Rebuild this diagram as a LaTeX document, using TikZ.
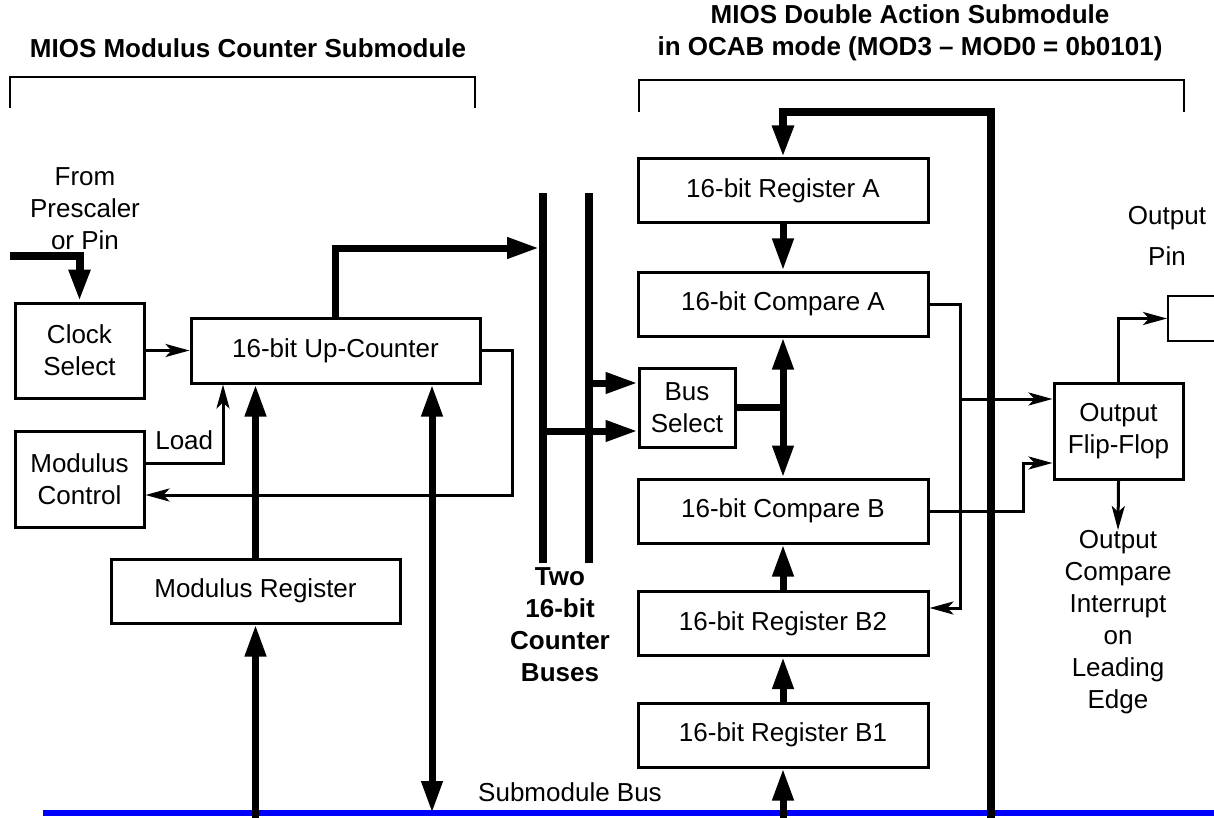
\documentclass[tikz,border=0pt]{standalone}
\usepackage{fontspec}
\setmainfont{Liberation Sans}
\usetikzlibrary{arrows.meta}
\definecolor{busblue}{RGB}{0,0,255}

\begin{document}
\begin{tikzpicture}[x=0.5pt, y=-0.5pt,
  big/.tip={Triangle[length=16pt,width=10pt]},
  sml/.tip={Stealth[length=12pt,width=6.5pt,inset=3pt]},
  blk/.style={draw, line width=1.5pt, inner sep=0pt, align=center,
              font=\fontsize{13}{16}\selectfont},
  regbox/.style={blk, minimum width=145pt, minimum height=32pt},
  thk/.style={line width=3.5pt},
  thn/.style={line width=1.5pt},
  txt/.style={align=center, inner sep=0pt, font=\fontsize{13}{16}\selectfont},
  ttl/.style={align=center, inner sep=0pt, font=\bfseries\fontsize{13}{16}\selectfont}]
  \useasboundingbox (0,0) rectangle (1214,818);
  % 标题与括号
  \node[ttl] (ttlmc) at (248,48) {MIOS Modulus Counter Submodule};
  \node[ttl] (ttlda) at (910,33) {MIOS Double Action Submodule\\in OCAB mode (MOD3 -- MOD0 = 0b0101)};
  \draw[line width=0.8pt] (10,108) -- (10,77) -- (475,77) -- (475,108);
  \draw[line width=0.8pt] (639,112) -- (639,80) -- (1184,80) -- (1184,112);
  % 模计数器子模块
  \node[txt] (src) at (85,209) {From\\Prescaler\\or Pin};
  \node[blk, minimum width=64.5pt, minimum height=47.5pt] (clk) at (79.5,350.5) {Clock\\Select};
  \node[blk, minimum width=144.5pt, minimum height=32.5pt] (ctr) at (335.5,350.5) {16-bit Up-Counter};
  \node[blk, minimum width=64.5pt, minimum height=48pt] (modc) at (79.5,479) {Modulus\\Control};
  \node[blk, minimum width=144.5pt, minimum height=32pt] (modr) at (255.5,591) {Modulus Register};
  % 双动作子模块
  \foreach \n/\t/\y in {rega/Register A/191, cmpa/Compare A/304, cmpb/Compare B/511,
                        regb2/Register B2/623.5, regb1/Register B1/735}
    \node[regbox] (\n) at (783,\y) {16-bit \t};
  \node[blk, minimum width=48pt, minimum height=39.5pt] (bsel) at (687,407.5) {Bus\\Select};
  \node[blk, minimum width=64.5pt, minimum height=48pt] (ff) at (1118.5,431) {Output\\Flip-Flop};
  \node[draw, line width=1pt, minimum width=46pt, minimum height=22.5pt] (pin) at (1214,318.5) {};
  \node[txt, font=\fontsize{13}{20.5}\selectfont] (pinlbl) at (1167,235.5) {Output\\Pin};
  \node[txt, anchor=north] (irq) at (1118,530) {Output\\Compare\\Interrupt\\on\\Leading\\Edge};
  \node[ttl] (buslbl) at (560,625) {Two\\16-bit\\Counter\\Buses};
  \node[txt] (sblbl) at (570,792) {Submodule Bus};
  % 总线
  \coordinate (sbl) at (43,813);   \coordinate (sbr) at (1214,813);
  \coordinate (sbb) at (0,818);
  \draw[busblue, line width=3pt] (sbl) -- (sbr);
  \coordinate (b1t) at (543,193);  \coordinate (b1b) at (543,563);
  \coordinate (b2t) at (589,193);  \coordinate (b2b) at (589,563);
  \draw[line width=4pt] (b1t) -- (b1b) (b2t) -- (b2b);
  % 左侧连接
  \coordinate (in) at (10,256);
  \coordinate (tapc) at (543,248);
  \draw[line width=4pt, -{big}] (in) -| (clk.north);
  \draw[thn, -{sml}] (clk) -- (ctr);
  \draw[thk, -{big}, shorten >=2pt] (ctr.north) |- (tapc);
  \draw[thn, -{sml}] (ctr.east) -- ++(15.5pt,0) |- ([yshift=-8pt]modc.east);
  \draw[thn, -{sml}] ([yshift=8pt]modc.east) -| node[txt, pos=0.25, above=6pt] (load) {Load}
    ([xshift=-56.25pt]ctr.south);
  \draw[thk, -{big}] (modr.north) -- (modr.north |- ctr.south);
  \draw[thk, {big}-{big}] ([xshift=48.25pt]ctr.south) -- ([xshift=48.25pt]ctr.south |- sbl);
  \draw[thk, -{big}] (modr.south |- sbb) -- (modr.south);
  % 总线选择
  \coordinate (t2) at (589,383);  \coordinate (t1) at (543,431);
  \draw[thk, -{big}] (t2) -- (t2 -| bsel.west);
  \draw[thk, -{big}] (t1) -- (t1 -| bsel.west);
  \draw[thk] (bsel.east) -- (bsel.east -| cmpa.south);
  \draw[thk, {big}-{big}] (cmpa.south) -- (cmpb.north);
  % 寄存器通路
  \coordinate (lpb) at (991,818);  \coordinate (lpt) at (991,112);
  \draw[line width=4pt, -{big}] (lpb) -- (lpt) -| (rega.north);
  \draw[thk, -{big}] (rega) -- (cmpa);
  \draw[thk, -{big}] (regb2) -- (cmpb);
  \draw[thk, -{big}] (regb1) -- (regb2);
  \draw[thk, -{big}] (regb1.south |- sbb) -- (regb1.south);
  % 比较输出
  \coordinate (ja) at (960,399);  \coordinate (jb) at (1023,463);
  \draw[thn, -{sml}] (cmpa.east) -| (ja) |- ([yshift=7.75pt]regb2.east);
  \draw[thn, -{sml}] (ja) -- (ja -| ff.west);
  \draw[thn, -{sml}] (cmpb.east) -| (jb) -- (jb -| ff.west);
  \draw[thn, -{sml}] (ff.north) |- (pin.west);
  \draw[thn, -{sml}] (ff.south) -- (irq.north);
\end{tikzpicture}
\end{document}
